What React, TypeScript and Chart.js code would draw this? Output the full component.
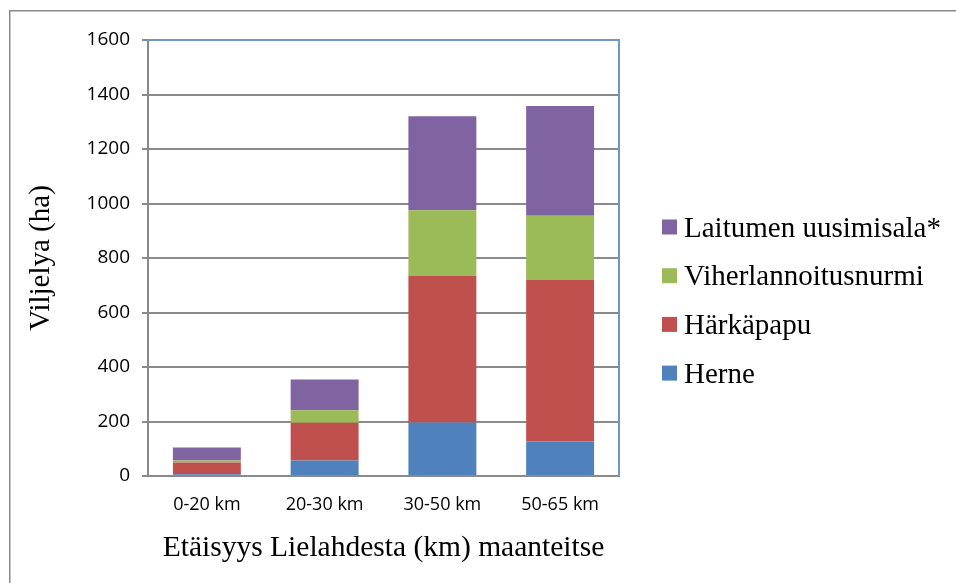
import React, { useEffect, useRef } from "react";
import { Chart, registerables } from "chart.js";

Chart.register(...registerables);

const categories = ["0-20 km", "20-30 km", "30-50 km", "50-65 km"];
const herne = [6, 57, 196, 127];
const harkapapu = [44, 138, 538, 592];
const viherlannoitusnurmi = [7, 46, 241, 236];
const laitumen = [48, 113, 345, 403];
const yTicks = [0, 200, 400, 600, 800, 1000, 1200, 1400, 1600];

const GRAY = "#8a8a8a";
const BLUE_BORDER = "#6f97cb";

const framePlugin = {
  id: "frame",
  afterDraw(chart: any) {
    const { ctx, chartArea } = chart;
    ctx.save();
    // outer border
    ctx.strokeStyle = GRAY;
    ctx.lineWidth = 1.5;
    ctx.strokeRect(9.75, 10.75, 3000, 3000);
    // plot border top & right (blue)
    ctx.strokeStyle = BLUE_BORDER;
    ctx.lineWidth = 2;
    ctx.beginPath();
    ctx.moveTo(chartArea.left, chartArea.top);
    ctx.lineTo(chartArea.right, chartArea.top);
    ctx.lineTo(chartArea.right, chartArea.bottom);
    ctx.stroke();
    // legend
    const items = chart.data.datasets.map((d: any) => ({ label: d.label, color: d.backgroundColor })).reverse();
    const boxX = 662;
    const textX = 684;
    const startY = 227;
    const step = 48.7;
    ctx.font = '29px "Liberation Serif", "Times New Roman", serif';
    ctx.textBaseline = "alphabetic";
    ctx.textAlign = "left";
    items.forEach((it: any, i: number) => {
      const cy = startY + i * step;
      ctx.fillStyle = it.color;
      ctx.fillRect(boxX, cy - 7.5, 15, 15);
      ctx.fillStyle = "#000";
      ctx.fillText(it.label, textX, cy + 9.5);
    });
    ctx.restore();
  },
};

export default function App() {
  const ref = useRef<HTMLCanvasElement>(null);
  useEffect(() => {
    if (!ref.current) return;
    const chart = new Chart(ref.current, {
      type: "bar",
      data: {
        labels: categories,
        datasets: [
          { label: "Herne", data: herne, backgroundColor: "#4f81bd" },
          { label: "Härkäpapu", data: harkapapu, backgroundColor: "#c0504d" },
          { label: "Viherlannoitusnurmi", data: viherlannoitusnurmi, backgroundColor: "#9bbb59" },
          { label: "Laitumen uusimisala*", data: laitumen, backgroundColor: "#8064a2" },
        ],
      },
      options: {
        responsive: false,
        animation: false,
        layout: { padding: { left: 0, right: 337, top: 40, bottom: 0 } },
        datasets: { bar: { categoryPercentage: 1, barPercentage: 0.577, borderWidth: 0 } },
        plugins: { legend: { display: false }, tooltip: { enabled: false } },
        scales: {
          x: {
            stacked: true,
            grid: { display: false, drawTicks: false },
            border: { display: true, color: GRAY, width: 2 },
            ticks: {
              color: "#000",
              padding: 18,
              font: { family: '"Open Sans", sans-serif', size: 18 },
            },
            title: {
              display: true,
              text: "Etäisyys Lielahdesta (km) maanteitse",
              color: "#000",
              font: { family: '"Liberation Serif", "Times New Roman", serif', size: 29.5 },
              padding: { top: 0, bottom: 17 },
            },
            afterFit(scale: any) {
              scale.height = 107;
            },
          },
          y: {
            stacked: true,
            min: 0,
            max: 1600,
            afterBuildTicks(scale: any) {
              scale.ticks = yTicks.map((v) => ({ value: v }));
            },
            grid: { color: GRAY, lineWidth: 2, drawTicks: true, tickLength: 6, tickColor: GRAY },
            border: { display: true, color: GRAY, width: 2 },
            ticks: {
              color: "#000",
              padding: 12,
              font: { family: '"Open Sans", sans-serif', size: 19 },
              callback: (v: any) => String(v),
            },
            title: {
              display: true,
              text: "Viljelya (ha)",
              color: "#000",
              font: { family: '"Liberation Serif", "Times New Roman", serif', size: 29 },
              padding: { top: 24, bottom: 0 },
            },
            afterFit(scale: any) {
              scale.width = 148;
            },
          },
        },
      },
      plugins: [framePlugin],
    } as any);
    return () => chart.destroy();
  }, []);
  return (
    <div style={{ position: "absolute", left: 0, top: 0, width: 956, height: 583, background: "#fff" }}>
      <canvas ref={ref} width={956} height={583} style={{ display: "block" }} />
    </div>
  );
}
